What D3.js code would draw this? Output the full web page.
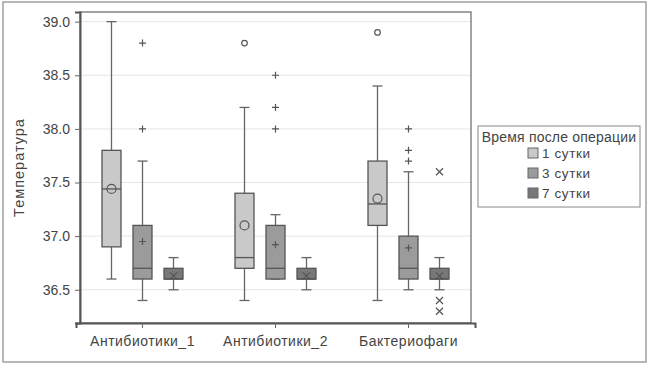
<!DOCTYPE html>
<html>
<head>
<meta charset="utf-8">
<script src="https://cdn.jsdelivr.net/npm/d3@7"></script>
<style>
    body { margin: 0; background: #fff; }
    svg text { font-family: "Liberation Sans", Arial, sans-serif; fill: #444; }
</style>
</head>
<body>
<div id="chart"></div>
<script>
// categories and series
var categories = ["Антибиотики_1", "Антибиотики_2", "Бактериофаги"];
var seriesNames = ["1 сутки", "3 сутки", "7 сутки"];
var seriesFill = ["#c9c9c9", "#9b9b9b", "#787878"];
var seriesSymbol = ["circle", "plus", "cross"];
var yTicks = [36.5, 37.0, 37.5, 38.0, 38.5, 39.0];

// box stats: [low whisker, q1, median, q3, high whisker, mean], per category, per series
var boxes1 = [[36.6, 36.9, 37.44, 37.8, 39.0, 37.44],
              [36.4, 36.7, 36.8, 37.4, 38.2, 37.1],
              [36.4, 37.1, 37.3, 37.7, 38.4, 37.35]];
var boxes3 = [[36.4, 36.6, 36.7, 37.1, 37.7, 36.95],
              [36.6, 36.6, 36.7, 37.1, 37.2, 36.92],
              [36.5, 36.6, 36.7, 37.0, 37.6, 36.89]];
var boxes7 = [[36.5, 36.6, 36.6, 36.7, 36.8, 36.63],
              [36.5, 36.6, 36.6, 36.7, 36.8, 36.63],
              [36.5, 36.6, 36.6, 36.7, 36.8, 36.63]];
// outliers per category
var outliers1 = [[], [38.8], [38.9]];
var outliers3 = [[38.0, 38.8], [38.0, 38.2, 38.5], [37.7, 37.8, 38.0]];
var outliers7 = [[], [], [37.6, 36.4, 36.3]];

var allBoxes = [boxes1, boxes3, boxes7];
var allOutliers = [outliers1, outliers3, outliers7];

var W = 650, H = 365;
var plot = { left: 80, top: 12, right: 471, bottom: 323 };

var svg = d3.select("#chart").append("svg")
    .attr("width", W).attr("height", H);

// outer frame
svg.append("rect")
    .attr("x", 3).attr("y", 2).attr("width", 643).attr("height", 360)
    .attr("fill", "none").attr("stroke", "#a0a0a0").attr("stroke-width", 1.5);

var y = d3.scaleLinear().domain([36.19, 39.09]).range([plot.bottom, plot.top]);
var x = d3.scaleBand().domain(categories)
    .range([plot.left - 4, plot.right + 4]).padding(0);
var xs = d3.scalePoint().domain(seriesNames).range([-31, 31]);

// grid
svg.append("g").selectAll("line").data(yTicks).enter().append("line")
    .attr("x1", plot.left).attr("x2", plot.right)
    .attr("y1", function (d) { return y(d); }).attr("y2", function (d) { return y(d); })
    .attr("stroke", "#e6e6e6").attr("stroke-width", 1);

// plot border
svg.append("rect")
    .attr("x", plot.left).attr("y", plot.top)
    .attr("width", plot.right - plot.left).attr("height", plot.bottom - plot.top)
    .attr("fill", "none").attr("stroke", "#666").attr("stroke-width", 1.2);

// axes
var yAxis = svg.append("g")
    .attr("transform", "translate(" + plot.left + ",0)")
    .call(d3.axisLeft(y).tickValues(yTicks).tickFormat(d3.format(".1f")).tickSize(5).tickPadding(5));
var xAxis = svg.append("g")
    .attr("transform", "translate(0," + plot.bottom + ")")
    .call(d3.axisBottom(x).tickSize(5).tickPadding(8));
[yAxis, xAxis].forEach(function (a) {
    a.select(".domain").attr("stroke", "#555").attr("stroke-width", 2);
    a.selectAll(".tick line").attr("stroke", "#666");
    a.selectAll("text").attr("fill", "#444").style("font-size", "14px")
        .style("font-family", "'Liberation Sans', Arial, sans-serif");
});
xAxis.selectAll("text").style("letter-spacing", "0.5px");

svg.append("text")
    .attr("transform", "translate(24," + ((plot.top + plot.bottom) / 2) + ") rotate(-90)")
    .attr("text-anchor", "middle")
    .style("font-size", "14.5px").style("letter-spacing", "1px")
    .text("Температура");

function symbolPath(type, cx, cy) {
    var s = 3.5;
    if (type === "plus") {
        return "M" + (cx - s) + "," + cy + "H" + (cx + s) + "M" + cx + "," + (cy - s) + "V" + (cy + s);
    }
    return "M" + (cx - s) + "," + (cy - s) + "L" + (cx + s) + "," + (cy + s) +
        "M" + (cx - s) + "," + (cy + s) + "L" + (cx + s) + "," + (cy - s);
}

function drawSymbol(g, type, cx, cy, big) {
    if (type === "circle") {
        g.append("circle").attr("cx", cx).attr("cy", cy).attr("r", big ? 4.5 : 2.8)
            .attr("fill", "none").attr("stroke", "#555").attr("stroke-width", 1.2);
    } else {
        g.append("path").attr("d", symbolPath(type, cx, cy))
            .attr("stroke", "#555").attr("stroke-width", 1.2).attr("fill", "none");
    }
}

var bw = 19, cap = 10;
allBoxes.forEach(function (series, si) {
    series.forEach(function (b, ci) {
        var cx = x(categories[ci]) + x.bandwidth() / 2 + xs(seriesNames[si]);
        var g = svg.append("g");
        // whiskers
        g.append("line").attr("x1", cx).attr("x2", cx).attr("y1", y(b[4])).attr("y2", y(b[3]))
            .attr("stroke", "#666").attr("stroke-width", 1.3);
        g.append("line").attr("x1", cx).attr("x2", cx).attr("y1", y(b[1])).attr("y2", y(b[0]))
            .attr("stroke", "#666").attr("stroke-width", 1.3);
        [b[0], b[4]].forEach(function (v) {
            g.append("line").attr("x1", cx - cap / 2).attr("x2", cx + cap / 2)
                .attr("y1", y(v)).attr("y2", y(v))
                .attr("stroke", "#666").attr("stroke-width", 1.3);
        });
        // box
        g.append("rect").attr("x", cx - bw / 2).attr("y", y(b[3]))
            .attr("width", bw).attr("height", y(b[1]) - y(b[3]))
            .attr("fill", seriesFill[si]).attr("stroke", "#555").attr("stroke-width", 1.3);
        g.append("line").attr("x1", cx - bw / 2).attr("x2", cx + bw / 2)
            .attr("y1", y(b[2])).attr("y2", y(b[2]))
            .attr("stroke", "#555").attr("stroke-width", 1.3);
        // mean
        drawSymbol(g, seriesSymbol[si], cx, y(b[5]), true);
        // outliers
        allOutliers[si][ci].forEach(function (v) {
            drawSymbol(g, seriesSymbol[si], cx, y(v), false);
        });
    });
});

// legend
var lg = svg.append("g").attr("transform", "translate(478,126)");
lg.append("rect").attr("width", 162).attr("height", 81)
    .attr("fill", "#fff").attr("stroke", "#888").attr("stroke-width", 1);
lg.append("text").attr("x", 81).attr("y", 16).attr("text-anchor", "middle")
    .style("font-size", "14px").style("letter-spacing", "0.2px").text("Время после операции");
seriesNames.forEach(function (name, i) {
    var row = lg.append("g").attr("transform", "translate(50," + (22 + i * 20) + ")");
    row.append("rect").attr("width", 10).attr("height", 10)
        .attr("fill", seriesFill[i]).attr("stroke", "#666").attr("stroke-width", 1);
    row.append("text").attr("x", 14).attr("y", 10)
        .style("font-size", "13.5px").style("letter-spacing", "0.6px").text(name);
});
</script>
</body>
</html>
